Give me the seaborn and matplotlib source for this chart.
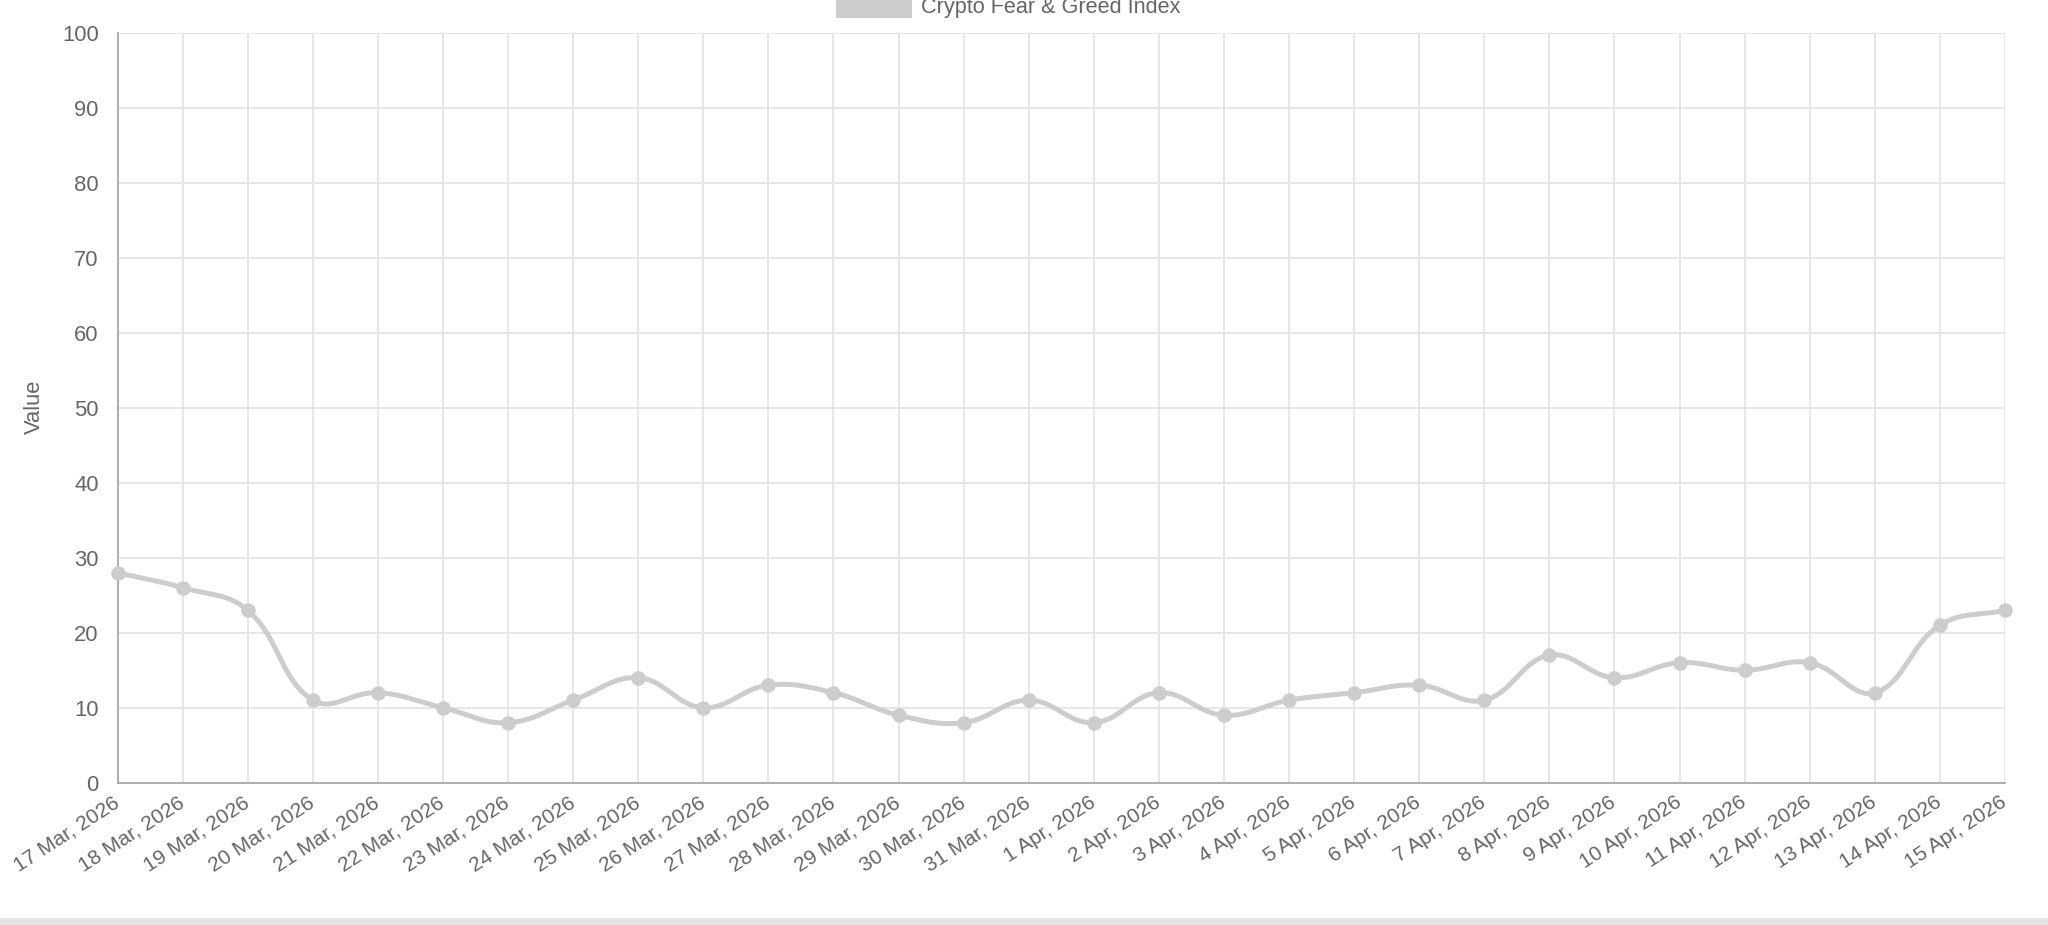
import numpy as np
import matplotlib
matplotlib.use("Agg")
import matplotlib.pyplot as plt
import seaborn as sns
from matplotlib.patches import Rectangle

# ---------------- data ----------------
dates = ["17 Mar, 2026", "18 Mar, 2026", "19 Mar, 2026", "20 Mar, 2026", "21 Mar, 2026",
         "22 Mar, 2026", "23 Mar, 2026", "24 Mar, 2026", "25 Mar, 2026", "26 Mar, 2026",
         "27 Mar, 2026", "28 Mar, 2026", "29 Mar, 2026", "30 Mar, 2026", "31 Mar, 2026",
         "1 Apr, 2026", "2 Apr, 2026", "3 Apr, 2026", "4 Apr, 2026", "5 Apr, 2026",
         "6 Apr, 2026", "7 Apr, 2026", "8 Apr, 2026", "9 Apr, 2026", "10 Apr, 2026",
         "11 Apr, 2026", "12 Apr, 2026", "13 Apr, 2026", "14 Apr, 2026", "15 Apr, 2026"]
values = [28, 26, 23, 11, 12, 10, 8, 11, 14, 10, 13, 12, 9, 8, 11,
          8, 12, 9, 11, 12, 13, 11, 17, 14, 16, 15, 16, 12, 21, 23]
series_label = "Crypto Fear & Greed Index"
y_ticks = [0, 10, 20, 30, 40, 50, 60, 70, 80, 90, 100]
y_label = "Value"

# ---------------- style ----------------
sns.set_theme(style="white")
plt.rcParams['font.family'] = ['Liberation Sans', 'DejaVu Sans']

TEXT = "#666666"
GRID = "#e5e5e5"
AXIS = "#a8a8a8"
LINE = "#cdcdcd"
FS = 15.8

W, H = 2048, 925
fig = plt.figure(figsize=(W / 100, H / 100), dpi=100)
L, R, T, B = 117.5, 2005, 32.7, 782.7
ax = fig.add_axes([L / W, 1 - B / H, (R - L) / W, (B - T) / H])

n = len(values)
idx = np.arange(n)

# Chart.js-like cubic spline (tension 0.4), computed in pixel space
sx = (R - L) / (n - 1)
sy = (B - T) / 100.0
px = idx * sx
py = np.array(values, dtype=float) * sy
t = 0.4
cp_prev = np.zeros((n, 2))
cp_next = np.zeros((n, 2))
for i in range(n):
    cur = np.array([px[i], py[i]])
    prev = np.array([px[i - 1], py[i - 1]]) if i > 0 else cur
    nxt = np.array([px[i + 1], py[i + 1]]) if i < n - 1 else cur
    d01 = np.hypot(*(cur - prev))
    d12 = np.hypot(*(nxt - cur))
    tot = d01 + d12
    s01 = d01 / tot if tot else 0
    s12 = d12 / tot if tot else 0
    cp_prev[i] = cur - t * s01 * (nxt - prev)
    cp_next[i] = cur + t * s12 * (nxt - prev)

xs, ys = [], []
tt = np.linspace(0, 1, 40)
for i in range(n - 1):
    P0 = np.array([px[i], py[i]])
    P1 = cp_next[i]
    P2 = cp_prev[i + 1]
    P3 = np.array([px[i + 1], py[i + 1]])
    for u in (tt if i == 0 else tt[1:]):
        p = ((1 - u) ** 3) * P0 + 3 * ((1 - u) ** 2) * u * P1 + 3 * (1 - u) * u ** 2 * P2 + u ** 3 * P3
        xs.append(p[0] / sx)
        ys.append(p[1] / sy)

sns.lineplot(x=xs, y=ys, sort=False, estimator=None, color=LINE, linewidth=3.6, ax=ax, zorder=3)
sns.scatterplot(x=idx, y=values, color=LINE, edgecolor=LINE, s=110, ax=ax, zorder=4,
                linewidth=0, clip_on=False)

ax.set_xlim(0, n - 1)
ax.set_ylim(0, 100)
ax.set_yticks(y_ticks)
ax.set_xticks(idx)
ax.set_xticklabels(dates, rotation=33, ha="right", va="center", rotation_mode="anchor")

ax.grid(True, color=GRID, linewidth=1.3)
ax.set_axisbelow(True)
for s in ["top", "right"]:
    ax.spines[s].set_visible(False)
for s in ["left", "bottom"]:
    ax.spines[s].set_color(AXIS)
    ax.spines[s].set_linewidth(1.3)

ax.tick_params(axis="both", which="both", length=12, width=1.3, color=GRID,
               labelsize=FS, labelcolor=TEXT)
ax.tick_params(axis="y", pad=1.5)
ax.tick_params(axis="x", length=14, pad=-1, labelsize=15)
ax.get_xticklines()[0].set_color(AXIS)
ax.get_yticklines()[0].set_color(AXIS)

ax.set_ylabel(y_label, fontsize=FS, color=TEXT)
ax.yaxis.set_label_coords((45 - L) / (R - L), (B - 407) / (B - T))
ax.set_xlabel("")

# legend (cut at the top as in reference)
fig.patches.append(Rectangle((836 / W, 1 - 18 / H), 76 / W, 30 / H, transform=fig.transFigure,
                             facecolor=LINE, edgecolor="none", clip_on=False))
fig.text(921 / W, 1 - 13 / H, series_label, fontsize=15.6, color=TEXT, ha="left", va="baseline")

# bottom page band
fig.patches.append(Rectangle((0, 0), 1, 7 / H, transform=fig.transFigure,
                             facecolor="#e4e4e4", edgecolor="none"))

fig.savefig("out.png", dpi=100)
